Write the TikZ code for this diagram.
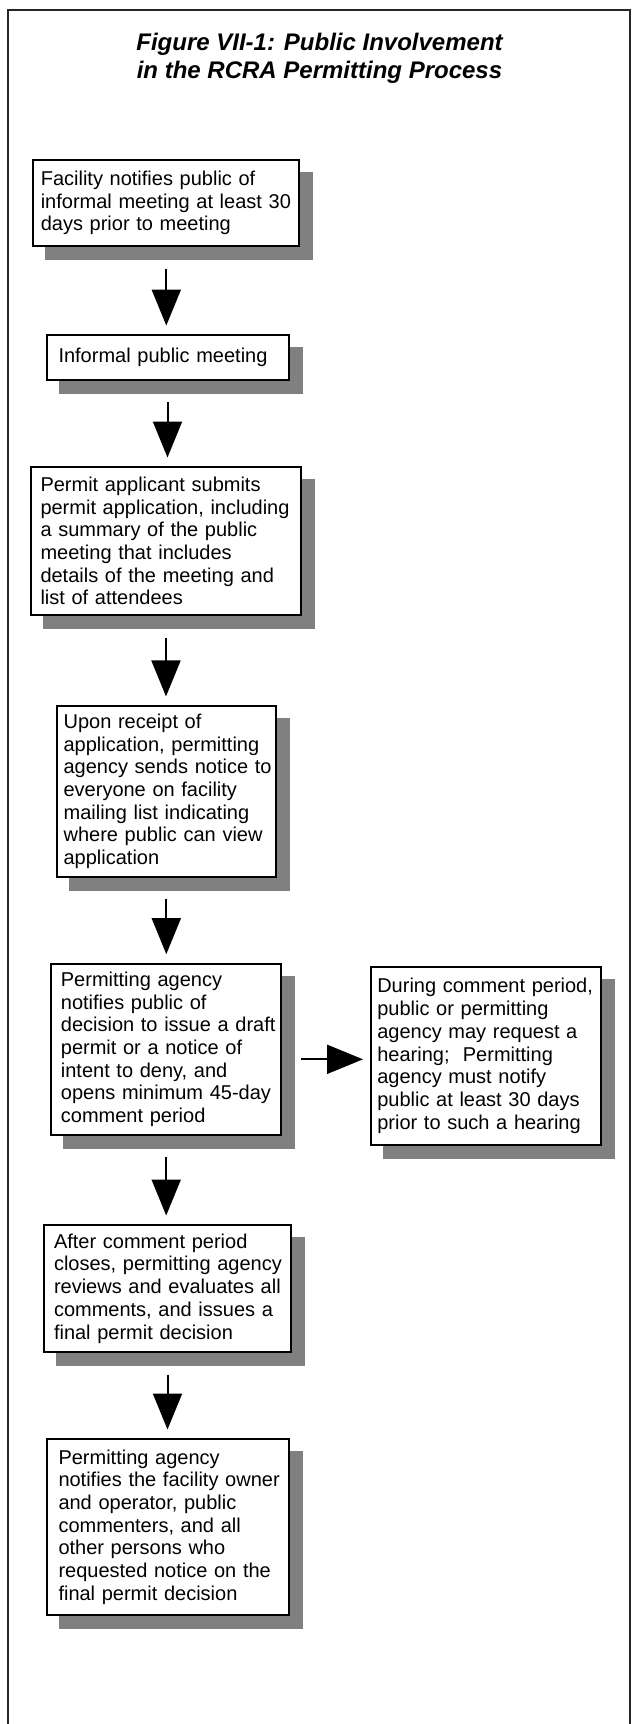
\documentclass[tikz,border=0pt]{standalone}
\usepackage{fontspec}
\setmainfont{Liberation Sans}
\usetikzlibrary{arrows.meta,shadows}
\definecolor{shadowgray}{HTML}{808080}
\newcommand\bxl[1]{\mbox{#1}}
\begin{document}
\begin{tikzpicture}[x=1pt,y=-1pt,
  stepbox/.style={draw=black, line width=2pt, fill=white, align=left, inner ysep=0pt,
    font=\fontsize{20}{22.7}\selectfont,
    drop shadow={shadow xshift=13pt, shadow yshift=-13pt, fill=shadowgray, draw=shadowgray, line width=2pt, opacity=1}},
  arr/.style={line width=2pt, -{Triangle[length=36pt, width=29pt]}, shorten <=21.5pt, shorten >=8.5pt},
  titlestyle/.style={font=\fontsize{24}{28}\selectfont\bfseries\itshape, align=center, inner sep=0pt},
  frame/.style={line width=2.5pt, draw=black!85}
]
\useasboundingbox (0,0) rectangle (632,1724);
\fill[white] (0,0) rectangle (632,1724);
\draw[frame] (8,1730) -- (8,10) -- (630,10) -- (630,1730);

\node[titlestyle, anchor=north] (title) at (319.5,32.5) {Figure VII-1: Public Involvement\\in the RCRA Permitting Process};

\node[stepbox, minimum width=266pt, minimum height=86pt, inner xsep=7.5pt, text width=251pt] (b1) at (166.3,203)
 {\bxl{Facility notifies public of}\\\bxl{informal meeting at least 30}\\\bxl{days prior to meeting}};
\node[stepbox, minimum width=242pt, minimum height=44.7pt, inner xsep=12pt, text width=218pt] (b2) at (167.5,357.4)
 {\bxl{Informal public meeting}};
\node[stepbox, minimum width=270pt, minimum height=148pt, inner xsep=9.5pt, text width=251pt] (b3) at (166,541)
 {\bxl{Permit applicant submits}\\\bxl{permit application, including}\\\bxl{a summary of the public}\\\bxl{meeting that includes}\\\bxl{details of the meeting and}\\\bxl{list of attendees}};
\node[stepbox, minimum width=219.4pt, minimum height=170.7pt, inner xsep=7pt, text width=205.4pt] (b4) at (166.3,791.3)
 {\bxl{Upon receipt of}\\\bxl{application, permitting}\\\bxl{agency sends notice to}\\\bxl{everyone on facility}\\\bxl{mailing list indicating}\\\bxl{where public can view}\\\bxl{application}};
\node[stepbox, minimum width=229.6pt, minimum height=171.3pt, inner xsep=9.5pt, text width=210.6pt] (b5) at (166.2,1049.3)
 {\bxl{Permitting agency}\\\bxl{notifies public of}\\\bxl{decision to issue a draft}\\\bxl{permit or a notice of}\\\bxl{intent to deny, and}\\\bxl{opens minimum 45-day}\\\bxl{comment period}};
\node[stepbox, minimum width=229.8pt, minimum height=178.3pt, inner xsep=6.5pt, text width=216.8pt] (b6) at (485.7,1055.9)
 {\bxl{During comment period,}\\\bxl{public or permitting}\\\bxl{agency may request a}\\\bxl{hearing;\ \ Permitting}\\\bxl{agency must notify}\\\bxl{public at least 30 days}\\\bxl{prior to such a hearing}};
\node[stepbox, minimum width=247pt, minimum height=127pt, inner xsep=10pt, text width=227pt] (b7) at (167.5,1288.5)
 {\bxl{After comment period}\\\bxl{closes, permitting agency}\\\bxl{reviews and evaluates all}\\\bxl{comments, and issues a}\\\bxl{final permit decision}};
\node[stepbox, minimum width=242pt, minimum height=176pt, inner xsep=12pt, text width=218pt] (b8) at (167.5,1527)
 {\bxl{Permitting agency}\\\bxl{notifies the facility owner}\\\bxl{and operator, public}\\\bxl{commenters, and all}\\\bxl{other persons who}\\\bxl{requested notice on the}\\\bxl{final permit decision}};

\draw[arr] (b1.south) -- (b1.south |- b2.north);
\draw[arr] (b2.south) -- (b2.south |- b3.north);
\draw[arr] (b3.south) -- (b3.south |- b4.north);
\draw[arr] (b4.south) -- (b4.south |- b5.north);
\draw[arr] (b5.south) -- (b5.south |- b7.north);
\draw[arr] (b7.south) -- (b7.south |- b8.north);
\draw[arr, shorten <=19pt, shorten >=6.8pt] ([yshift=-10pt]b5.east) -- ([yshift=-10pt]b5.east -| b6.west);
\end{tikzpicture}
\end{document}
